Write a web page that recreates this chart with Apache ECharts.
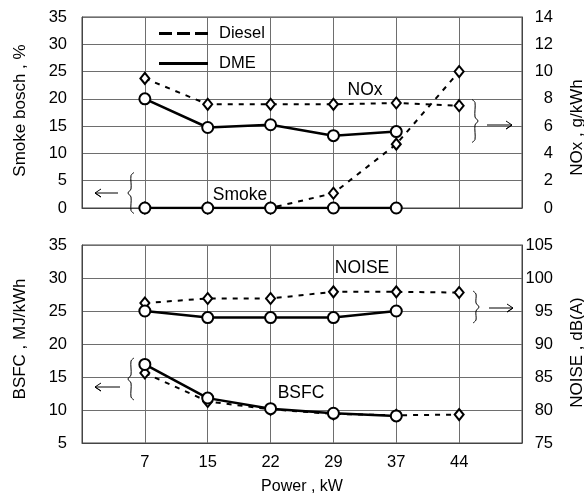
<!DOCTYPE html>
<html><head><meta charset="utf-8">
<script src="https://cdn.jsdelivr.net/npm/echarts@6/dist/echarts.min.js"></script>
<style>html,body{margin:0;padding:0;background:#fff}#c{width:584px;height:494px}</style>
</head><body><div id="c"></div>
<script>
// Power, kW
const categories = ['7', '15', '22', '29', '37', '44'];
// Top panel: NOx (right axis, g/kWh) and Smoke (left axis, %)
const dieselNOx   = [9.5, 7.6, 7.6, 7.6, 7.7, 7.5];
const dmeNOx      = [8.0, 5.9, 6.1, 5.3, 5.6, null];
const dieselSmoke = [0, 0, 0, 2.7, 11.7, 25.0];
const dmeSmoke    = [0, 0, 0, 0, 0, null];
// Bottom panel: NOISE (right axis, dB(A)) and BSFC (left axis, MJ/kWh)
const dieselNoise = [96.2, 96.9, 96.9, 97.9, 97.9, 97.8];
const dmeNoise    = [95.0, 94.0, 94.0, 94.0, 95.0, null];
const dieselBSFC  = [15.6, 11.3, 10.1, 9.4, 9.2, 9.3];
const dmeBSFC     = [16.9, 11.8, 10.2, 9.5, 9.1, null];
// axis ranges
const smokeAxis = {min: 0, max: 35, interval: 5};
const noxAxis   = {min: 0, max: 14, interval: 2};
const bsfcAxis  = {min: 5, max: 35, interval: 5};
const noiseAxis = {min: 75, max: 105, interval: 5};

const FONT = 'Liberation Sans, Arial, sans-serif';
const axisCats = [''].concat(categories, ['']);
const pad = a => [null].concat(a, [null]);

const chart = echarts.init(document.getElementById('c'));
const gridLine = {show: true, lineStyle: {color: '#6e6e6e', width: 1}};
const axisLine = {show: true, lineStyle: {color: '#444', width: 1}};
const TICK = 16.5, NAME = 17;

function xAx(gi, showLabel) {
  return {
    gridIndex: gi, type: 'category', data: axisCats, boundaryGap: false,
    axisLine: axisLine, axisTick: {show: false}, splitLine: gridLine,
    axisLabel: {show: showLabel, interval: 0, color: '#000', fontSize: TICK, fontFamily: FONT, margin: 11},
    name: showLabel ? 'Power , kW' : '', nameLocation: 'middle', nameGap: 36,
    nameTextStyle: {color: '#000', fontSize: 16, fontFamily: FONT}
  };
}
function yAx(gi, pos, rng, name, split, padding) {
  return {
    gridIndex: gi, type: 'value', position: pos, min: rng.min, max: rng.max, interval: rng.interval,
    axisLine: axisLine, axisTick: {show: false}, splitLine: split ? gridLine : {show: false},
    axisLabel: pos === 'left'
      ? {color: '#000', fontSize: TICK, fontFamily: FONT, margin: 15}
      : {color: '#000', fontSize: TICK, fontFamily: FONT, margin: 31, align: 'right'},
    name: name, nameLocation: 'middle', nameRotate: 90,
    nameGap: pos === 'left' ? 53 : 47,
    nameTextStyle: {color: '#000', fontSize: NAME, fontFamily: FONT, padding: padding}
  };
}
function ser(name, xi, yi, data, diesel) {
  return {
    name: name, type: 'line', xAxisIndex: xi, yAxisIndex: yi, data: pad(data),
    symbol: diesel ? 'emptyDiamond' : 'emptyCircle',
    symbolSize: diesel ? [9, 11] : 11,
    color: '#000',
    itemStyle: {color: '#000', borderColor: '#000', borderWidth: 1},
    lineStyle: diesel ? {color: '#000', width: 2, type: [5, 6]} : {color: '#000', width: 2.5},
    z: diesel ? 2 : 3, animation: false
  };
}
function brace(x, cy, h, dir) {
  const d = dir; // -1 => points left, 1 => points right
  const t = cy - h / 2, b = cy + h / 2;
  return {type: 'polyline', silent: true, z: 100,
    shape: {points: [[x - d * 3, t], [x, t + 3], [x, cy - 4], [x + d * 3, cy], [x, cy + 4], [x, b - 3], [x - d * 3, b]], smooth: 0.3},
    style: {stroke: '#000', lineWidth: 1, fill: null}};
}
function arrow(x1, x2, y) {
  const d = x2 > x1 ? 1 : -1;
  return {type: 'polyline', silent: true, z: 100,
    shape: {points: [[x1 + d * 6, y - 4], [x1, y], [x1 + d * 6, y + 4], [x1, y], [x2, y]]},
    style: {stroke: '#000', lineWidth: 1, fill: null}};
}
function label(text, x, y) {
  return {type: 'text', z: 100, x: x, y: y,
    style: {text: text, fill: '#000', font: '17.5px ' + FONT, textAlign: 'center', textVerticalAlign: 'middle'}};
}

chart.setOption({
  backgroundColor: '#fff',
  animation: false,
  grid: [
    {left: 82, top: 17, width: 440, height: 191, show: true, borderColor: '#444', borderWidth: 1, outerBoundsMode: 'none', containLabel: false},
    {left: 82, top: 245, width: 440, height: 198, show: true, borderColor: '#444', borderWidth: 1, outerBoundsMode: 'none', containLabel: false}
  ],
  legend: {
    orient: 'vertical', left: 154, top: 20, itemGap: 13, itemWidth: 49, itemHeight: 3,
    textStyle: {color: '#000', fontSize: 16.5, fontFamily: FONT, padding: [0, 0, 0, 6]},
    itemStyle: {borderWidth: 0},
    data: [
      {name: 'Diesel', icon: 'path://M0,0h13v3h-13zM18,0h13v3h-13zM36,0h13v3h-13z'},
      {name: 'DME', icon: 'rect'}
    ]
  },
  xAxis: [xAx(0, false), xAx(1, true)],
  yAxis: [
    yAx(0, 'left', smokeAxis, 'Smoke bosch , %', true, [0, 0, 0, 4]),
    yAx(0, 'right', noxAxis, 'NOx , g/kWh', false, [0, 30, 0, 0]),
    yAx(1, 'left', bsfcAxis, 'BSFC , MJ/kWh', true, [0, 0, 0, 10]),
    yAx(1, 'right', noiseAxis, 'NOISE , dB(A)', false, [0, 17, 0, 0])
  ],
  series: [
    ser('Diesel', 0, 1, dieselNOx, true),
    ser('Diesel', 0, 0, dieselSmoke, true),
    ser('DME', 0, 1, dmeNOx, false),
    ser('DME', 0, 0, dmeSmoke, false),
    ser('Diesel', 1, 3, dieselNoise, true),
    ser('Diesel', 1, 2, dieselBSFC, true),
    ser('DME', 1, 3, dmeNoise, false),
    ser('DME', 1, 2, dmeBSFC, false)
  ],
  graphic: [
    label('NOx', 365, 90),
    label('Smoke', 240, 195),
    label('NOISE', 362, 268),
    label('BSFC', 301, 393),
    brace(131, 193, 41, -1), arrow(95, 118, 193),
    brace(475, 121, 43, 1), arrow(512, 487, 125),
    brace(131, 379, 42, -1), arrow(95, 120, 387),
    brace(476, 307, 32, 1), arrow(513, 489, 308)
  ]
});
</script></body></html>
